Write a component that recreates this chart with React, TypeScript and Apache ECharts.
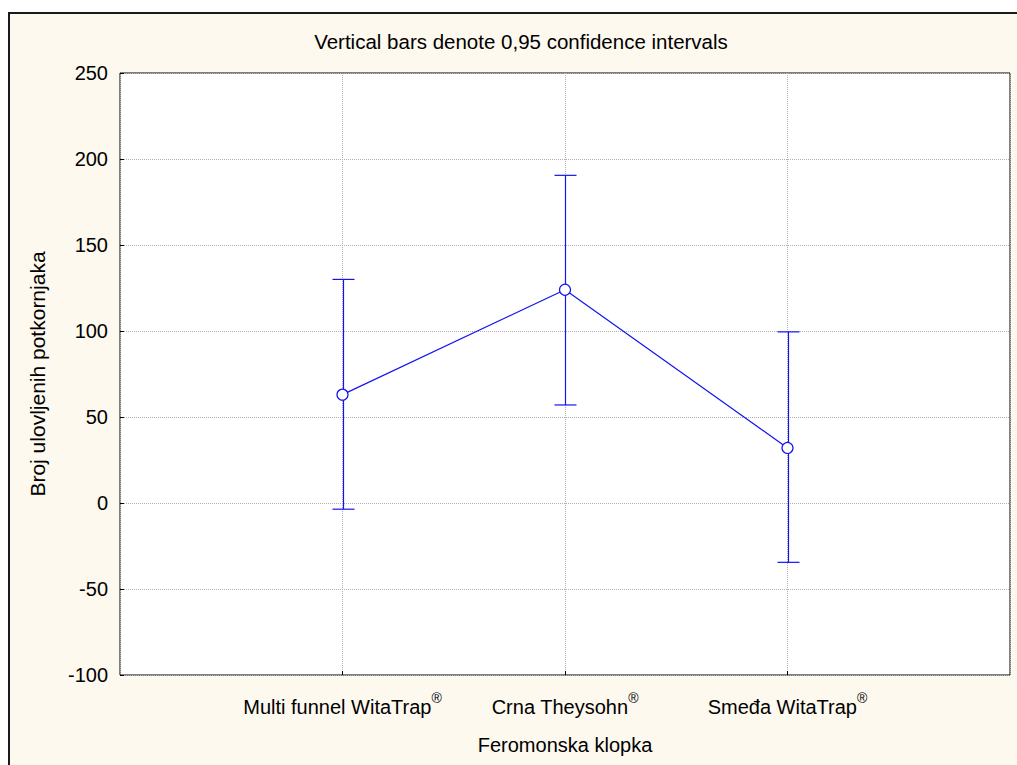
import React, { useEffect, useRef } from "react";
import * as echarts from "echarts";

const categories = ["Multi funnel WitaTrap", "Crna Theysohn", "Smeđa WitaTrap"];
const means = [63, 124, 32];
const lowers = [-3.6, 57, -34.5];
const uppers = [130, 190.5, 99.5];
const yTicks = { min: -100, max: 250, interval: 50 };

const FONT = "Arial, 'Liberation Sans', sans-serif";
const BLUE = "#1414f0";

export default function App() {
  const ref = useRef<HTMLDivElement>(null);
  useEffect(() => {
    document.body.style.margin = "0";
    const chart = echarts.init(ref.current!, null, { renderer: "svg" });
    const pts = means.map((m, i) => [i + 1, m]);
    const bars = means.map((_, i) => [i + 1, lowers[i], uppers[i]]);
    chart.setOption({
      animation: false,
      backgroundColor: "#ffffff",
      graphic: [
        {
          type: "rect",
          z: -10,
          shape: { x: 9, y: 13, width: 1030, height: 780 },
          style: { fill: "#fdf9ef", stroke: "#1a1a1a", lineWidth: 2 },
        },
        {
          type: "text",
          x: 521,
          y: 41,
          style: {
            text: "Vertical bars denote 0,95 confidence intervals",
            font: `20.5px ${FONT}`,
            fill: "#000",
            textAlign: "center",
            textVerticalAlign: "middle",
          },
        },
      ],
      grid: {
        left: 120,
        top: 73,
        width: 890,
        height: 602,
        show: true,
        backgroundColor: "#ffffff",
        borderColor: "#000",
        borderWidth: 1,
      },
      xAxis: {
        type: "value",
        min: 0,
        max: 4,
        interval: 1,
        name: "Feromonska klopka",
        nameLocation: "middle",
        nameGap: 60,
        nameTextStyle: { fontFamily: FONT, fontSize: 20, color: "#000" },
        axisLine: { show: false, onZero: false },
        axisTick: { show: true, inside: true, length: 4, lineStyle: { color: "#000" } },
        splitLine: { show: true, lineStyle: { type: "dotted", color: "#b0b0b0" } },
        axisLabel: {
          margin: 16,
          showMinLabel: false,
          showMaxLabel: false,
          formatter: (v: number) => {
            const c = categories[v - 1];
            return c ? `{t|${c}}{s|®}` : "";
          },
          rich: {
            t: { fontFamily: FONT, fontSize: 20, color: "#000", verticalAlign: "bottom" },
            s: { fontFamily: FONT, fontSize: 14, color: "#000", verticalAlign: "top", padding: [0, 0, 12, 0] },
          },
        },
      },
      yAxis: {
        type: "value",
        min: yTicks.min,
        max: yTicks.max,
        interval: yTicks.interval,
        name: "Broj ulovljenih potkornjaka",
        nameLocation: "middle",
        nameRotate: 90,
        nameGap: 72,
        nameTextStyle: { fontFamily: FONT, fontSize: 21, color: "#000" },
        axisLine: { show: false, onZero: false },
        axisTick: { show: true, inside: true, length: 4, lineStyle: { color: "#000" } },
        splitLine: { show: true, lineStyle: { type: "dotted", color: "#b0b0b0" } },
        axisLabel: { margin: 12, fontFamily: FONT, fontSize: 20, color: "#000" },
      },
      series: [
        {
          type: "custom",
          z: 2,
          data: bars,
          renderItem: (params: any, api: any) => {
            const x = api.value(0);
            const lo = api.coord([x, api.value(1)]);
            const hi = api.coord([x, api.value(2)]);
            const px = Math.round(lo[0]) + 0.5;
            const hw = 11;
            const style = { stroke: BLUE, lineWidth: 1.2 };
            return {
              type: "group",
              children: [
                { type: "line", shape: { x1: px, y1: lo[1], x2: px, y2: hi[1] }, style },
                { type: "line", shape: { x1: px - hw, y1: hi[1], x2: px + hw, y2: hi[1] }, style },
                { type: "line", shape: { x1: px - hw, y1: lo[1], x2: px + hw, y2: lo[1] }, style },
              ],
            };
          },
        },
        {
          type: "line",
          z: 3,
          data: pts,
          symbol: "circle",
          symbolSize: 11,
          lineStyle: { color: BLUE, width: 1.2 },
          itemStyle: { color: "#ffffff", borderColor: BLUE, borderWidth: 1.2 },
        },
      ],
    });
    return () => chart.dispose();
  }, []);
  return <div ref={ref} style={{ width: 1017, height: 765 }} />;
}
